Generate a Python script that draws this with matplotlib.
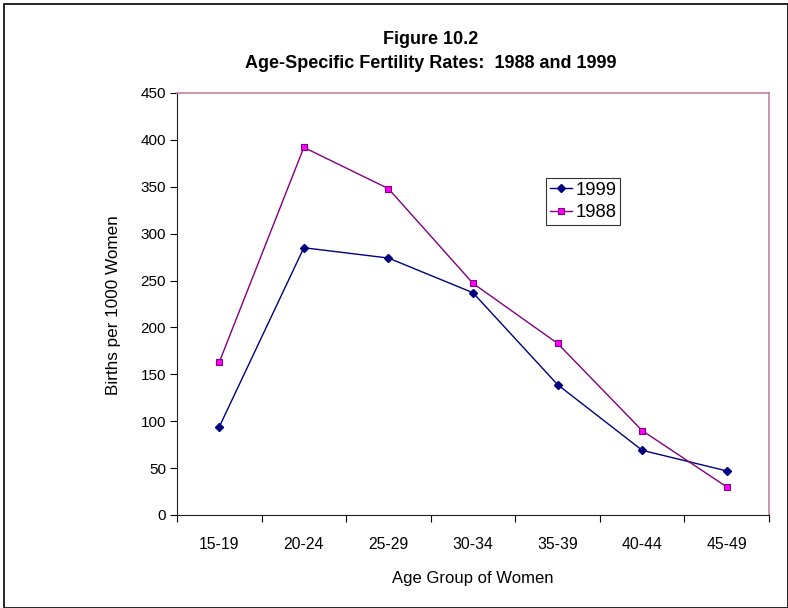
import matplotlib
matplotlib.use("Agg")
import matplotlib.pyplot as plt
from matplotlib.patches import Rectangle

categories = ["15-19", "20-24", "25-29", "30-34", "35-39", "40-44", "45-49"]
rates_1999 = [94, 285, 274, 237, 139, 69, 47]
rates_1988 = [163, 392, 348, 247, 183, 90, 30]
yticks = [0, 50, 100, 150, 200, 250, 300, 350, 400, 450]

plt.rcParams['font.family'] = ['Liberation Sans', 'DejaVu Sans']

W, H = 788, 608
fig = plt.figure(figsize=(W / 100, H / 100), dpi=100)
fig.patch.set_facecolor('white')

# outer frame
fig.patches.append(Rectangle((3.5 / W, 0), (W - 4) / W, (H - 3.5) / H, transform=fig.transFigure,
                             fill=False, edgecolor='black', linewidth=1.2))

left, right, top, bottom = 177, 769, 93, 515
ax = fig.add_axes([left / W, (H - bottom) / H, (right - left) / W, (bottom - top) / H])

x = list(range(len(categories)))
ax.plot(x, rates_1999, color='#000080', marker='D', markersize=4, linewidth=1.0,
        markerfacecolor='#000080', markeredgecolor='#000080', label='1999')
ax.plot(x, rates_1988, color='#800080', marker='s', markersize=5, linewidth=1.0,
        markerfacecolor='#FF00FF', markeredgecolor='#800080', markeredgewidth=0.8, label='1988')

ax.set_xlim(-0.5, len(categories) - 0.5)
ax.set_ylim(0, 450)
ax.set_yticks(yticks)
ax.set_yticklabels([str(v) for v in yticks])
ax.set_xticks([i - 0.5 for i in range(len(categories) + 1)], minor=False)
ax.set_xticklabels([])
ax.set_xticks(x, minor=True)
ax.set_xticklabels(categories, minor=True)
ax.tick_params(axis='x', which='minor', length=0, pad=16, labelsize=11.3)
ax.tick_params(axis='x', which='major', length=5, direction='out', color='black')
ax.tick_params(axis='y', length=5, direction='out', labelsize=11, pad=3)

for s in ['top', 'right']:
    ax.spines[s].set_color('#c47fa3')
    ax.spines[s].set_linewidth(1.2)
ax.spines['left'].set_color('#202020')
ax.spines['bottom'].set_color('#202020')

fig.text((left + right) / 2 / W, 1 - 579 / H, 'Age Group of Women', fontsize=12,
         ha='center', va='center')
fig.text(113 / W, 1 - 305 / H, 'Births per 1000 Women', rotation=90, fontsize=12.3,
         ha='center', va='center')

fig.text(431 / W, 1 - 40 / H, 'Figure 10.2', fontsize=13, fontweight='bold', ha='center', va='center')
fig.text(431 / W, 1 - 63 / H, 'Age-Specific Fertility Rates:  1988 and 1999', fontsize=13,
         fontweight='bold', ha='center', va='center')

leg = ax.legend(loc='upper left', bbox_to_anchor=((546 - left) / (right - left), 1 - (178 - top) / (bottom - top)),
                fontsize=13.3, frameon=True, fancybox=False, borderpad=0.2, handlelength=1.2,
                handletextpad=0.2, labelspacing=0.3, borderaxespad=0)
leg.get_frame().set_edgecolor('black')
leg.get_frame().set_linewidth(0.8)

fig.savefig('out.png', dpi=100)
